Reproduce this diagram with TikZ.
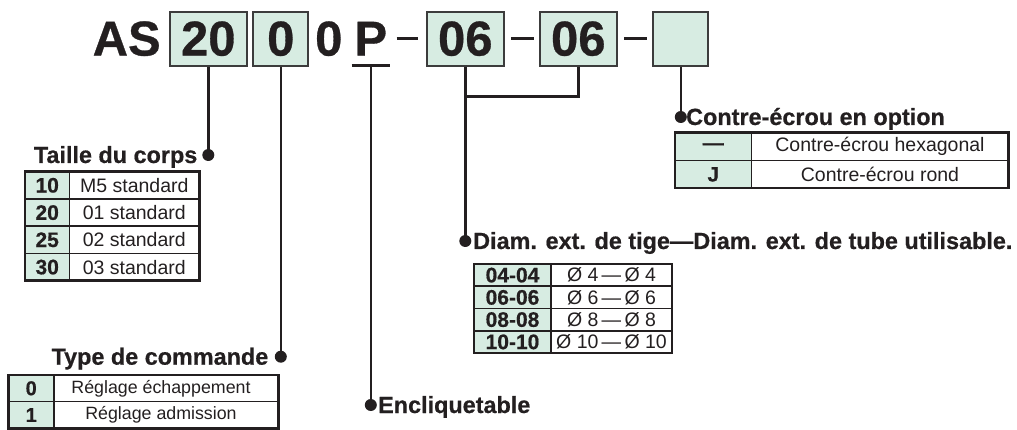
\documentclass[tikz,border=0pt]{standalone}
\usepackage{fontspec}
\setmainfont{Liberation Sans}[BoldFeatures={FakeBold=0.6}]
\usetikzlibrary{calc}
\definecolor{mint}{RGB}{215,236,226}
\definecolor{ink}{RGB}{35,31,32}
\definecolor{boxline}{RGB}{60,60,60}
\tikzset{
  codebox/.style={draw=boxline, line width=1.8pt, fill=mint, minimum height=54pt, inner sep=0pt, text=ink,
    font=\bfseries\fontsize{49}{49}\selectfont},
  bigtxt/.style={inner sep=0pt, text=ink, font=\bfseries\fontsize{49}{49}\selectfont},
  ttl/.style={inner sep=0pt, text=ink, font=\bfseries\fontsize{23.4}{24}\selectfont},
  cellb/.style={inner sep=0pt, text=ink, font=\bfseries\fontsize{21}{21}\selectfont},
  cellr/.style={inner sep=0pt, text=ink, font=\fontsize{19.5}{20}\selectfont},
  cellbs/.style={inner sep=0pt, text=ink, font=\bfseries\fontsize{20}{20}\selectfont},
  cellrs/.style={inner sep=0pt, text=ink, font=\fontsize{17.8}{18}\selectfont},
  dotn/.style={circle, fill=ink, draw=none, inner sep=0pt, outer sep=0pt, minimum size=12pt},
  conn/.style={draw=ink, line width=2.5pt},
  dashbar/.style={draw=ink, line width=3.5pt},
  outerb/.style={draw=ink, line width=2.4pt},
  innerb/.style={draw=ink, line width=1.5pt},
}
\begin{document}
\begin{tikzpicture}[x=1pt,y=-1pt]
\useasboundingbox (0,0) rectangle (1017,430);

% ---- top code line ----
\node[bigtxt] (AS) at (126.7,38.7) {AS};
\node[codebox, minimum width=76.7pt] (b20) at (208.3,38.7) {20};
\node[codebox, minimum width=55pt] (b0) at (280.8,38.7) {0};
\node[bigtxt] (z0) at (328.8,38.7) {0};
\node[bigtxt] (P) at (370.8,38.7) {P};
\node[codebox, minimum width=77.3pt] (b06a) at (465.3,38.7) {06};
\node[codebox, minimum width=76.7pt] (b06b) at (578.3,38.7) {06};
\node[codebox, minimum width=55pt] (bE) at (680.8,38.7) {};

\coordinate (da1) at (396.7,38.3); \coordinate (da2) at (418,38.3);
\coordinate (db1) at (511,38.3);   \coordinate (db2) at (534,38.3);
\coordinate (dc1) at (624.3,38.3); \coordinate (dc2) at (646.7,38.3);
\draw[dashbar] (da1) -- (da2);
\draw[dashbar] (db1) -- (db2);
\draw[dashbar] (dc1) -- (dc2);

\coordinate (ulL) at (351.7,65.7);
\coordinate (ulR) at (390,65.7);
\coordinate (ulM) at (370.8,65.7);
\draw[conn] (ulL) -- (ulR);

% ---- dot positions ----
\coordinate (d20) at (208.3,155);
\coordinate (d0) at (280.8,356.7);
\coordinate (dP) at (370.8,405);
\coordinate (d06) at (465.3,241);
\coordinate (dC) at (680.8,117);
\coordinate (j06) at (465.3,96.7);

% ---- connectors ----
\draw[conn] (b20.south) -- (d20);
\draw[conn] (b0.south) -- (d0);
\draw[conn] (ulM) -- (dP);
\draw[conn] (b06a.south) -- (d06);
\draw[conn] (b06b.south) |- (j06);
\draw[conn] (bE.south) -- (dC);

\node[dotn] (n20) at (d20) {};
\node[dotn] (n0) at (d0) {};
\node[dotn] (nP) at (dP) {};
\node[dotn] (n06) at (d06) {};
\node[dotn] (nC) at (dC) {};

% ---- titles ----
\node[ttl, anchor=base east] (tTaille) at (197.5,163) {Taille du corps};
\node[ttl, anchor=base east] (tType) at (268.5,364.7) {Type de commande};
\node[ttl, anchor=base west] (tEncl) at (378,413) {Encliquetable};
\node[ttl, anchor=base west] (tDiam) at (473,249) {Diam. ext. de tige—Diam. ext. de tube utilisable.};
\node[ttl, anchor=base west] (tContre) at (686,125) {Contre-écrou en option};

% ---- table: Taille du corps ----
\fill[mint] (25,171.7) rectangle (69.3,280.7);
\draw[innerb] (25,198.95) -- (199.3,198.95);
\draw[innerb] (25,226.2) -- (199.3,226.2);
\draw[innerb] (25,253.45) -- (199.3,253.45);
\draw[innerb] (69.3,171.7) -- (69.3,280.7);
\draw[outerb] (25,171.7) rectangle (199.3,280.7);
\node[cellb] (ta1) at (47.2,185.3) {10};
\node[cellr] (tb1) at (134.3,185.3) {M5 standard};
\node[cellb] (ta2) at (47.2,212.6) {20};
\node[cellr] (tb2) at (134.3,212.6) {01 standard};
\node[cellb] (ta3) at (47.2,239.8) {25};
\node[cellr] (tb3) at (134.3,239.8) {02 standard};
\node[cellb] (ta4) at (47.2,267.1) {30};
\node[cellr] (tb4) at (134.3,267.1) {03 standard};

% ---- table: Type de commande ----
\fill[mint] (8.3,375) rectangle (54,428.3);
\draw[innerb] (8.3,401.6) -- (278.3,401.6);
\draw[innerb] (54,375) -- (54,428.3);
\draw[outerb] (8.3,375) rectangle (278.3,428.3);
\node[cellbs] (ya1) at (31.2,388.3) {0};
\node[cellrs] (yb1) at (161,388.3) {Réglage échappement};
\node[cellbs] (ya2) at (31.2,415) {1};
\node[cellrs] (yb2) at (161,415) {Réglage admission};

% ---- table: Contre-écrou ----
\fill[mint] (675,132.7) rectangle (751.7,188.3);
\draw[innerb] (675,160.5) -- (1008.3,160.5);
\draw[innerb] (751.7,132.7) -- (751.7,188.3);
\draw[outerb] (675,132.7) rectangle (1008.3,188.3);
\node[cellb] (ca1) at (713.3,146.6) {—};
\node[cellr] (cb1) at (880,146.6) {Contre-écrou hexagonal};
\node[cellb] (ca2) at (713.3,174.4) {J};
\node[cellr] (cb2) at (880,174.4) {Contre-écrou rond};

% ---- table: Diam ----
\fill[mint] (474,264) rectangle (551,353);
\draw[innerb] (474,286.25) -- (672,286.25);
\draw[innerb] (474,308.5) -- (672,308.5);
\draw[innerb] (474,330.75) -- (672,330.75);
\draw[innerb] (551,264) -- (551,353);
\draw[outerb] (474,264) rectangle (672,353);
\node[cellb] (da1n) at (512.5,275.1) {04-04};
\node[cellr] (db1n) at (611.5,275.1) {Ø 4\,—\,Ø 4};
\node[cellb] (da2n) at (512.5,297.4) {06-06};
\node[cellr] (db2n) at (611.5,297.4) {Ø 6\,—\,Ø 6};
\node[cellb] (da3n) at (512.5,319.6) {08-08};
\node[cellr] (db3n) at (611.5,319.6) {Ø 8\,—\,Ø 8};
\node[cellb] (da4n) at (512.5,341.9) {10-10};
\node[cellr] (db4n) at (611.5,341.9) {Ø 10\,—\,Ø 10};
\end{tikzpicture}
\end{document}
